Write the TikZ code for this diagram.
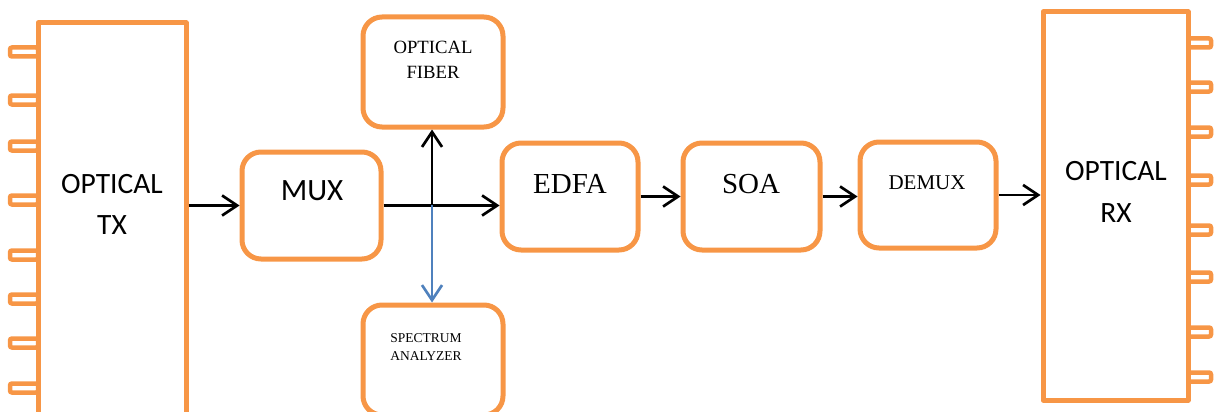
\documentclass[tikz,border=0pt]{standalone}
\usepackage{fontspec}
\setmainfont{Liberation Serif}
\newfontfamily\carlitofont{Carlito}
\usetikzlibrary{arrows.meta}
\definecolor{boxorange}{HTML}{F79646}
\definecolor{tapblue}{HTML}{4F81BD}
\begin{document}
\begin{tikzpicture}[x=1pt,y=-1pt,
  box/.style={draw=boxorange,line width=5pt,rounded corners=19pt,fill=white,inner sep=0pt},
  unit/.style={draw=boxorange,line width=5pt,line join=round,fill=white,inner sep=0pt},
  pin/.style={draw=boxorange,line width=4.5pt,rounded corners=2pt},
  flow/.style={draw=black,line width=2.7pt,-{Straight Barb[length=15pt,width=20pt]}},
  lbl/.style={anchor=base,inner sep=0pt}]
\useasboundingbox (0,0) rectangle (1223,412);
\clip (0,0) rectangle (1223,412);

% transmitter with its input ports
\foreach \c in {52,100,146,200,255,299,343,388}
  \draw[pin] (10,\c-4.5) rectangle (38,\c+4.5);
\node[unit,minimum width=148pt,minimum height=407pt] (tx) at (112,226.5) {};
\node[lbl,font=\carlitofont\fontsize{29.5}{35}\selectfont] (txa) at (112,193) {OPTICAL};
\node[lbl,font=\carlitofont\fontsize{29.5}{35}\selectfont] (txb) at (112,234) {TX};

% receiver with its output ports
\foreach \c in {43,87,132,180,230,277,332,377}
  \draw[pin] (1188,\c-4.5) rectangle (1211,\c+4.5);
\node[unit,minimum width=145pt,minimum height=388pt] (rx) at (1115.5,206) {};
\node[lbl,font=\carlitofont\fontsize{29.5}{35}\selectfont] (rxa) at (1116,180) {OPTICAL};
\node[lbl,font=\carlitofont\fontsize{29.5}{35}\selectfont] (rxb) at (1116,222) {RX};

% processing blocks
\node[box,minimum width=139pt,minimum height=107pt] (mux) at (311.5,205.5) {};
\node[lbl,font=\carlitofont\fontsize{31}{36}\selectfont] (muxt) at (312,200) {MUX};

\node[box,minimum width=140pt,minimum height=110pt] (fiber) at (433,72) {};
\node[lbl,font=\fontsize{18.7}{22}\selectfont] (fibera) at (433,53) {OPTICAL};
\node[lbl,font=\fontsize{18.7}{22}\selectfont] (fiberb) at (433,78) {FIBER};

\node[box,minimum width=140pt,minimum height=110pt] (spec) at (433,360) {};
\node[lbl,font=\fontsize{13.5}{16}\selectfont] (speca) at (426,342) {SPECTRUM};
\node[lbl,font=\fontsize{13.5}{16}\selectfont] (specb) at (426,360) {ANALYZER};

\node[box,minimum width=136pt,minimum height=107pt] (edfa) at (570,196.5) {};
\node[lbl,font=\fontsize{29}{34}\selectfont] (edfat) at (570,193) {EDFA};

\node[box,minimum width=137pt,minimum height=107pt] (soa) at (751.5,196.5) {};
\node[lbl,font=\fontsize{29}{34}\selectfont] (soat) at (751,193) {SOA};

\node[box,minimum width=136pt,minimum height=106pt] (demux) at (928,195) {};
\node[lbl,font=\fontsize{21}{25}\selectfont] (demuxt) at (927,189) {DEMUX};

% signal path
\coordinate (j) at (432,205);
\draw[flow] (tx.east |- mux.west) -- (mux.west);
\draw[flow] (mux.east) -- (mux.east -| edfa.west);
\draw[flow] (j) -- (j |- fiber.south);
\draw[flow,draw=tapblue] (j) -- (j |- spec.north);
\draw[flow] (edfa.east) -- (soa.west);
\draw[flow] (soa.east) -- (soa.east -| demux.west);
\draw[flow] (demux.east) -- (demux.east -| rx.west);
\end{tikzpicture}
\end{document}
